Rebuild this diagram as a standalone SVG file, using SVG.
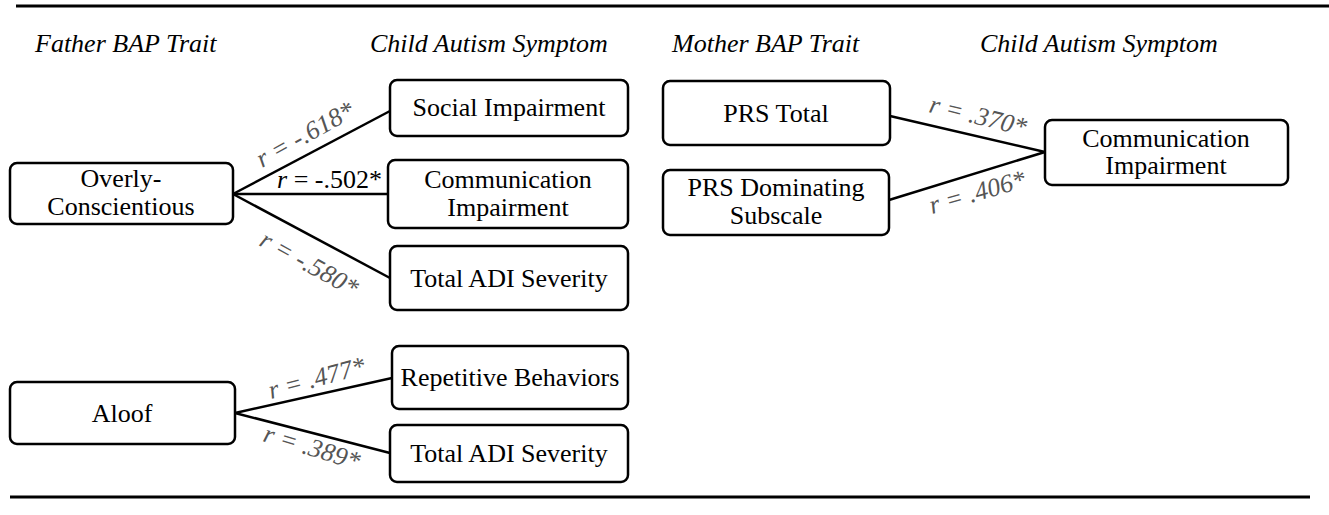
<svg xmlns="http://www.w3.org/2000/svg" width="1329" height="515" viewBox="0 0 1329 515">
<style>
text{font-family:"Liberation Serif","Tinos","DejaVu Serif","Noto Serif","FreeSerif","Times New Roman",Times,serif}
.box{fill:#fff;stroke:#000;stroke-width:2.5}
.t{font-size:26px;fill:#000;text-anchor:middle}
.h{font-size:26px;font-style:italic;fill:#000}
.lab{font-size:26px;font-style:italic;fill:#555}
.lab2{font-size:26px;fill:#000}
.c{stroke:#000;stroke-width:2.5;fill:none}
.rule{stroke:#000;stroke-width:3}
</style>
<rect width="1329" height="515" fill="#fff"/>
<line class="rule" x1="16" y1="6" x2="1329" y2="6"/>
<line class="rule" x1="10" y1="497" x2="1310" y2="497"/>
<g id="headers">
<text class="h" x="35" y="52">Father BAP Trait</text>
<text class="h" x="370" y="52">Child Autism Symptom</text>
<text class="h" x="672" y="52">Mother BAP Trait</text>
<text class="h" x="980" y="52">Child Autism Symptom</text>
</g>
<g id="connectors">
<line class="c" x1="233" y1="194" x2="390" y2="111"/>
<line class="c" x1="233" y1="194" x2="388" y2="194"/>
<line class="c" x1="233" y1="194" x2="390" y2="278"/>
<line class="c" x1="235" y1="413" x2="392" y2="378"/>
<line class="c" x1="235" y1="413" x2="390" y2="453"/>
<line class="c" x1="890" y1="116" x2="1045" y2="152"/>
<line class="c" x1="889" y1="200" x2="1045" y2="152"/>
<text class="lab" transform="translate(262,168) rotate(-29)">r = -.618*</text>
<text class="lab2" x="277" y="188"><tspan font-style="italic">r</tspan> = -.502*</text>
<text class="lab" transform="translate(258,245) rotate(29)">r = -.580*</text>
<text class="lab" transform="translate(271,399) rotate(-15)">r = .477*</text>
<text class="lab" transform="translate(262,441) rotate(17)">r = .389*</text>
<text class="lab" transform="translate(928,112) rotate(14)">r = .370*</text>
<text class="lab" transform="translate(932,214) rotate(-16)">r = .406*</text>
</g>
<g id="overly">
<rect class="box" x="10" y="163" width="223" height="61" rx="7"/>
<text class="t" x="121" y="187">Overly-</text>
<text class="t" x="121" y="215">Conscientious</text>
</g>
<g id="social">
<rect class="box" x="390" y="80" width="238" height="56" rx="7"/>
<text class="t" x="509" y="116">Social Impairment</text>
</g>
<g id="comm1">
<rect class="box" x="388" y="160" width="240" height="68" rx="7"/>
<text class="t" x="508" y="188">Communication</text>
<text class="t" x="508" y="216">Impairment</text>
</g>
<g id="adi1">
<rect class="box" x="390" y="246" width="238" height="64" rx="7"/>
<text class="t" x="509" y="287">Total ADI Severity</text>
</g>
<g id="aloof">
<rect class="box" x="10" y="382" width="225" height="62" rx="7"/>
<text class="t" x="122" y="422">Aloof</text>
</g>
<g id="repetitive">
<rect class="box" x="392" y="346" width="236" height="63" rx="7"/>
<text class="t" x="510" y="386">Repetitive Behaviors</text>
</g>
<g id="adi2">
<rect class="box" x="390" y="425" width="238" height="57" rx="7"/>
<text class="t" x="509" y="462">Total ADI Severity</text>
</g>
<g id="prstotal">
<rect class="box" x="663" y="81" width="227" height="64" rx="7"/>
<text class="t" x="776" y="122">PRS Total</text>
</g>
<g id="prsdom">
<rect class="box" x="663" y="170" width="226" height="65" rx="7"/>
<text class="t" x="776" y="196">PRS Dominating</text>
<text class="t" x="776" y="224">Subscale</text>
</g>
<g id="comm2">
<rect class="box" x="1045" y="120" width="243" height="65" rx="7"/>
<text class="t" x="1166" y="147">Communication</text>
<text class="t" x="1166" y="174">Impairment</text>
</g>
</svg>
